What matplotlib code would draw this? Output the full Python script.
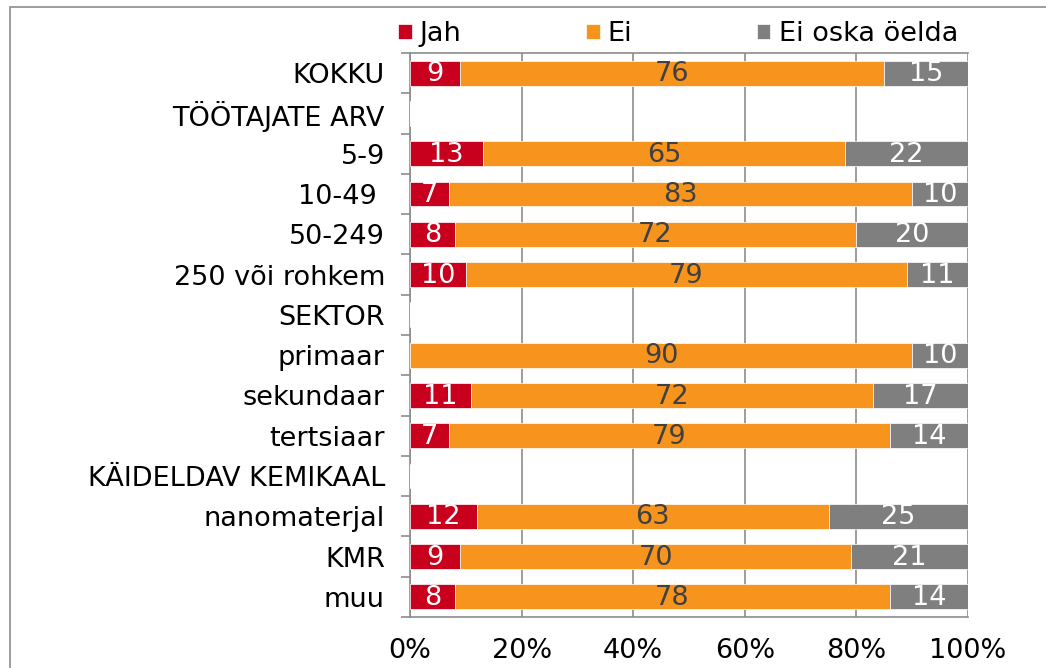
import matplotlib.pyplot as plt
import numpy as np
from matplotlib.patches import Rectangle

categories = [
    "KOKKU", "TÖÖTAJATE ARV", "5-9", "10-49 ", "50-249", "250 või rohkem",
    "SEKTOR", "primaar", "sekundaar", "tertsiaar", "KÄIDELDAV KEMIKAAL",
    "nanomaterjal", "KMR", "muu",
]
jah = [9, 0, 13, 7, 8, 10, 0, 0, 11, 7, 0, 12, 9, 8]
ei = [76, 0, 65, 83, 72, 79, 0, 90, 72, 79, 0, 63, 70, 78]
ei_oska = [15, 0, 22, 10, 20, 11, 0, 10, 17, 14, 0, 25, 21, 14]
series_names = ["Jah", "Ei", "Ei oska öelda"]
colors = ["#C8001E", "#F7941D", "#7F7F7F"]
label_colors = ["white", "#404040", "white"]
x_ticks = [0, 20, 40, 60, 80, 100]

plt.rcParams["font.family"] = ["DejaVu Sans"]
FS = 19.5

W, H = 1046, 668
fig = plt.figure(figsize=(W / 100, H / 100), dpi=100)
ax = fig.add_axes([410 / W, 1 - 617 / H, 558 / W, 564 / H])

y = np.arange(len(categories))
left = np.zeros(len(categories))
for vals, name, col, lcol in zip([jah, ei, ei_oska], series_names, colors, label_colors):
    vals = np.array(vals, dtype=float)
    bars = ax.barh(y, vals, left=left, height=0.62, color=col, label=name,
                   edgecolor="white", linewidth=0.5, zorder=3)
    for b, v in zip(bars, vals):
        if v > 0:
            ax.text(b.get_x() + v / 2, b.get_y() + b.get_height() / 2 + 0.03, f"{int(v)}",
                    ha="center", va="center", color=lcol, fontsize=FS, zorder=4)
    left += vals

ax.set_xlim(0, 100)
ax.set_ylim(len(categories) - 0.5, -0.5)
ax.set_yticks(y)
ax.set_yticklabels(categories, fontsize=FS, color="black")
ax.tick_params(axis="y", which="major", length=0, pad=18)
ax.set_yticks(np.arange(-0.5, len(categories), 1), minor=True)
ax.tick_params(axis="y", which="minor", length=6.5, color="#8C8C8C", width=1.2)

ax.set_xticks(x_ticks)
ax.set_xticklabels([f"{t}%" for t in x_ticks], fontsize=FS)
ax.tick_params(axis="x", length=0, pad=15)
ax.grid(axis="x", color="#8C8C8C", linewidth=1.2, zorder=0)

for side in ["left", "bottom", "top"]:
    ax.spines[side].set_color("#8C8C8C")
    ax.spines[side].set_linewidth(1.2)
ax.spines["right"].set_visible(False)

ax.legend(loc="center left", bbox_to_anchor=(398 / W, 1 - 34 / H),
          bbox_transform=fig.transFigure, ncol=3, frameon=False,
          fontsize=FS, handlelength=0.5, handleheight=0.5, handletextpad=0.3,
          columnspacing=4.6, borderpad=0, borderaxespad=0)

fig.patches.append(Rectangle((10 / W, -0.01), 1.02, 1 - 7 / H + 0.01,
                             transform=fig.transFigure, fill=False,
                             edgecolor="#8C8C8C", linewidth=1.2))

fig.savefig("out.png", dpi=100)
